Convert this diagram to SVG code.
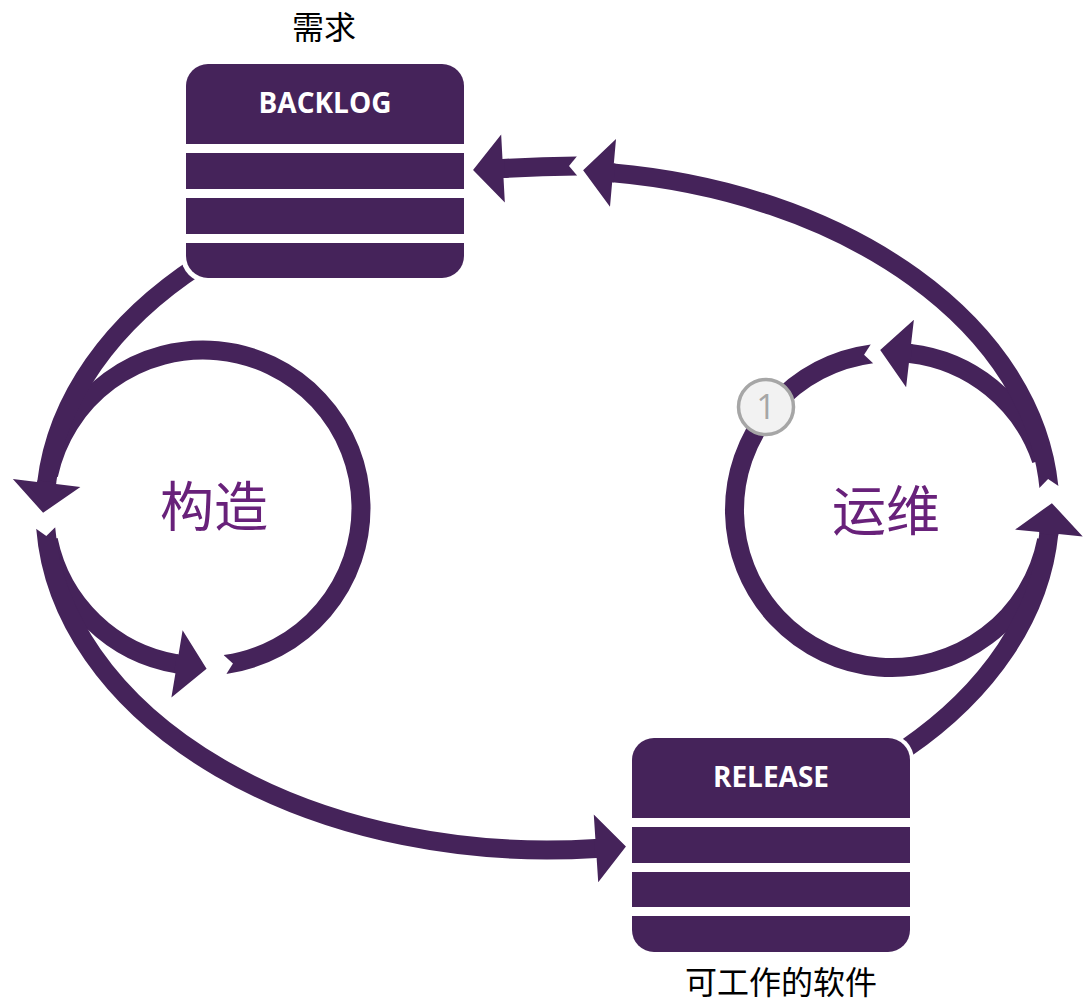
<svg xmlns="http://www.w3.org/2000/svg" width="1087" height="1003" viewBox="0 0 1087 1003">
<style>
.arc{fill:none;stroke:#45235a;stroke-width:19;stroke-linecap:butt}
.head{marker-end:url(#ah)}
.notch{marker-start:url(#nt)}
.box{fill:#45235a}
.halo{fill:#ffffff}
.gap{fill:#ffffff}
.title{font-family:"Open Sans","Liberation Sans",sans-serif;font-weight:700;font-size:28px;fill:#ffffff;text-anchor:middle}
.cap{font-family:"Noto Sans CJK SC","Noto Sans",sans-serif;font-size:32px;fill:#000000;text-anchor:middle}
.big{font-family:"Noto Sans CJK SC","Noto Sans",sans-serif;font-size:54px;fill:#68217a;text-anchor:middle}
</style>
<defs>
<marker id="ah" markerUnits="userSpaceOnUse" orient="auto" refX="0" refY="0" markerWidth="80" markerHeight="80" overflow="visible">
<path d="M0,-34 L30,0 L0,34 L0,9.5 L-1.5,9.5 L-1.5,-9.5 L0,-9.5 Z" fill="#45235a"/>
</marker>
<marker id="nt" markerUnits="userSpaceOnUse" orient="auto" refX="0" refY="0" markerWidth="40" markerHeight="40" overflow="visible">
<path d="M-2,-12 L8,0 L-2,12 Z" fill="#ffffff"/>
</marker>
</defs>
<rect width="1087" height="1003" fill="#ffffff"/>
<g id="connectors">
<path class="arc notch" d="M225,664.5 A158,158 0 1 0 48.5,475"/>
<path class="arc head" d="M48.3,540 A158,158 0 0 0 177,663.85"/>
<path class="arc notch" d="M872,353.8 A157.5,157.5 0 1 0 1046.6,540"/>
<path class="arc head" d="M1041.35,460 A157.5,157.5 0 0 0 910,353.5"/>
<path class="arc head" d="M200,264.4 A502.5,340 0 0 0 46.6,483"/>
<path class="arc head notch" d="M45.7,528 A502.5,340 0 0 0 596,848.4"/>
<path class="arc head" d="M905,749 A502.5,340 0 0 0 1048.9,533"/>
<path class="arc head notch" d="M1048.9,487 A502.5,340 0 0 0 613,172.9"/>
<path class="arc head notch" d="M577,166 Q540,166.5 503,168.5"/>
</g>
<g id="badge-1">
<circle cx="766" cy="407" r="27.5" fill="#f2f2f2" stroke="#a6a6a6" stroke-width="3.5"/>
<text x="766" y="419" font-family="Open Sans, Liberation Sans, sans-serif" font-size="34" fill="#a6a6a6" text-anchor="middle">1</text>
</g>
<g id="node-backlog">
<rect class="halo" x="181" y="59" width="288" height="224" rx="27"/>
<rect class="box" x="186" y="64" width="278" height="214" rx="22"/>
<rect class="gap" x="186" y="144" width="278" height="9"/>
<rect class="gap" x="186" y="189" width="278" height="9"/>
<rect class="gap" x="186" y="234" width="278" height="9"/>
<text class="title" x="325" y="113">BACKLOG</text>
<text class="cap" x="324" y="39">需求</text>
</g>
<g id="node-release">
<rect class="halo" x="628" y="734" width="286" height="222" rx="26"/>
<rect class="box" x="632" y="738" width="278" height="214" rx="22"/>
<rect class="gap" x="632" y="818" width="278" height="9"/>
<rect class="gap" x="632" y="863" width="278" height="9"/>
<rect class="gap" x="632" y="907" width="278" height="9"/>
<text class="title" x="771" y="787">RELEASE</text>
<text class="cap" x="781" y="994">可工作的软件</text>
</g>
<g id="node-build">
<text class="big" x="214" y="527">构造</text>
</g>
<g id="node-ops">
<text class="big" x="886" y="531">运维</text>
</g>
</svg>
